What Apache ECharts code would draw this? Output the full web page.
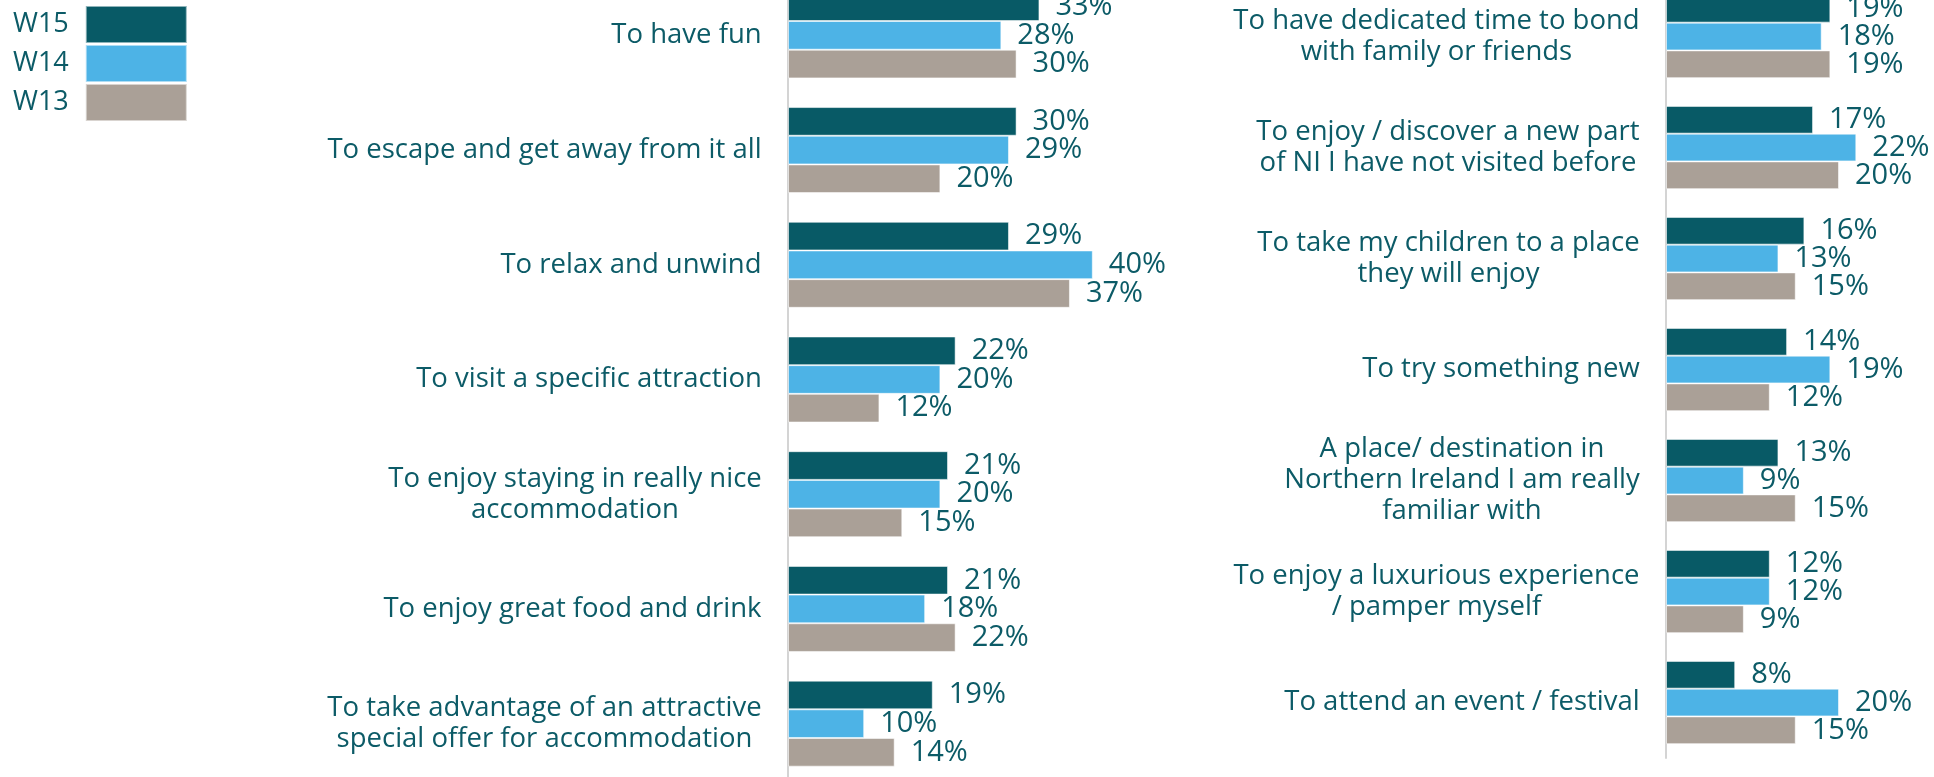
<!DOCTYPE html>
<html>
<head>
<meta charset="utf-8">
<script src="https://cdn.jsdelivr.net/npm/echarts@6/dist/echarts.min.js"></script>
<style>
  html, body { margin: 0; padding: 0; background: #fff; overflow: hidden; }
  /* the bars run past the top edge in the picture, so the chart starts above the page */
  #chart { position: absolute; left: 0; top: -30px; width: 1934px; height: 840px; }
</style>
</head>
<body>
<div id="chart"></div>
<script>
// categories (line breaks as in the picture)
const leftCats = [
  "To have fun",
  "To escape and get away from it all",
  "To relax and unwind",
  "To visit a specific attraction",
  "To enjoy staying in really nice\naccommodation",
  "To enjoy great food and drink",
  "To take advantage of an attractive\nspecial offer for accommodation"
];
const rightCats = [
  "To have dedicated time to bond\nwith family or friends",
  "To enjoy / discover a new part\nof NI I have not visited before",
  "To take my children to a place\nthey will enjoy",
  "To try something new",
  "A place/ destination in\nNorthern Ireland I am really\nfamiliar with",
  "To enjoy a luxurious experience\n/ pamper myself",
  "To attend an event / festival"
];

// values (%)
const leftW15 = [33, 30, 29, 22, 21, 21, 19];
const leftW14 = [28, 29, 40, 20, 20, 18, 10];
const leftW13 = [30, 20, 37, 12, 15, 22, 14];
const rightW15 = [19, 17, 16, 14, 13, 12, 8];
const rightW14 = [18, 22, 13, 19, 9, 12, 20];
const rightW13 = [19, 20, 15, 12, 15, 9, 15];

const seriesNames = ["W15", "W14", "W13"];
const colors = ["#085a66", "#4db3e6", "#aaa097"];
const textColor = "#0c5b67";
const fontFamily = '"Open Sans", "Noto Sans", sans-serif';
const fontSize = 27.5;
const shift = 30; // chart div sits 30px above the page top

// measure label lines so multi-line labels are centred line by line
const ctx = document.createElement("canvas").getContext("2d");
ctx.font = fontSize + "px " + fontFamily;
function buildRich(cats, prefix) {
  const rich = {};
  cats.forEach((c, i) => {
    const w = Math.max(...c.split("\n").map((l) => ctx.measureText(l).width));
    rich[prefix + i] = {
      width: Math.ceil(w) + 2,
      align: "center",
      fontSize: fontSize,
      lineHeight: 31,
      color: textColor,
      fontFamily: fontFamily
    };
  });
  return rich;
}
function catFormatter(cats, prefix) {
  return (value) => {
    const i = cats.indexOf(value);
    return value.split("\n").map((l) => "{" + prefix + i + "|" + l + "}").join("\n");
  };
}

function makeSeries(gridIdx, data) {
  return data.map((d, k) => ({
    name: seriesNames[k],
    type: "bar",
    xAxisIndex: gridIdx,
    yAxisIndex: gridIdx,
    data: d,
    barGap: "0%",
    barCategoryGap: "25%",
    itemStyle: {
      color: colors[k],
      borderColor: "rgba(255,255,255,0.55)",
      borderWidth: 1
    },
    label: {
      show: true,
      position: "right",
      distance: 16,
      formatter: "{c}%",
      color: textColor,
      fontSize: 29,
      fontFamily: fontFamily
    },
    emphasis: { disabled: true },
    animation: false
  }));
}

const chart = echarts.init(document.getElementById("chart"));
chart.setOption({
  animation: false,
  legend: {
    orient: "vertical",
    left: 13,
    top: 5 + shift,
    padding: 0,
    align: "right",
    icon: "rect",
    itemWidth: 101,
    itemHeight: 37,
    itemGap: 0,
    data: seriesNames,
    textStyle: {
      color: textColor,
      fontSize: 27,
      fontFamily: fontFamily,
      padding: [0, 12, 0, 0]
    }
  },
  grid: [
    { left: 788, top: shift - 22, width: 381, height: 803 },
    { left: 1666, top: shift - 19, width: 259.5, height: 777 }
  ],
  xAxis: [
    { gridIndex: 0, type: "value", min: 0, max: 50, show: false },
    { gridIndex: 1, type: "value", min: 0, max: 30, show: false }
  ],
  yAxis: [
    {
      gridIndex: 0,
      type: "category",
      inverse: true,
      data: leftCats,
      axisTick: { show: false },
      axisLine: { lineStyle: { color: "#d4d4d4", width: 2 } },
      axisLabel: {
        margin: 25,
        align: "right",
        formatter: catFormatter(leftCats, "l"),
        rich: buildRich(leftCats, "l")
      }
    },
    {
      gridIndex: 1,
      type: "category",
      inverse: true,
      data: rightCats,
      axisTick: { show: false },
      axisLine: { lineStyle: { color: "#d4d4d4", width: 2 } },
      axisLabel: {
        margin: 25,
        align: "right",
        formatter: catFormatter(rightCats, "r"),
        rich: buildRich(rightCats, "r")
      }
    }
  ],
  series: [
    ...makeSeries(0, [leftW15, leftW14, leftW13]),
    ...makeSeries(1, [rightW15, rightW14, rightW13])
  ]
});
</script>
</body>
</html>
